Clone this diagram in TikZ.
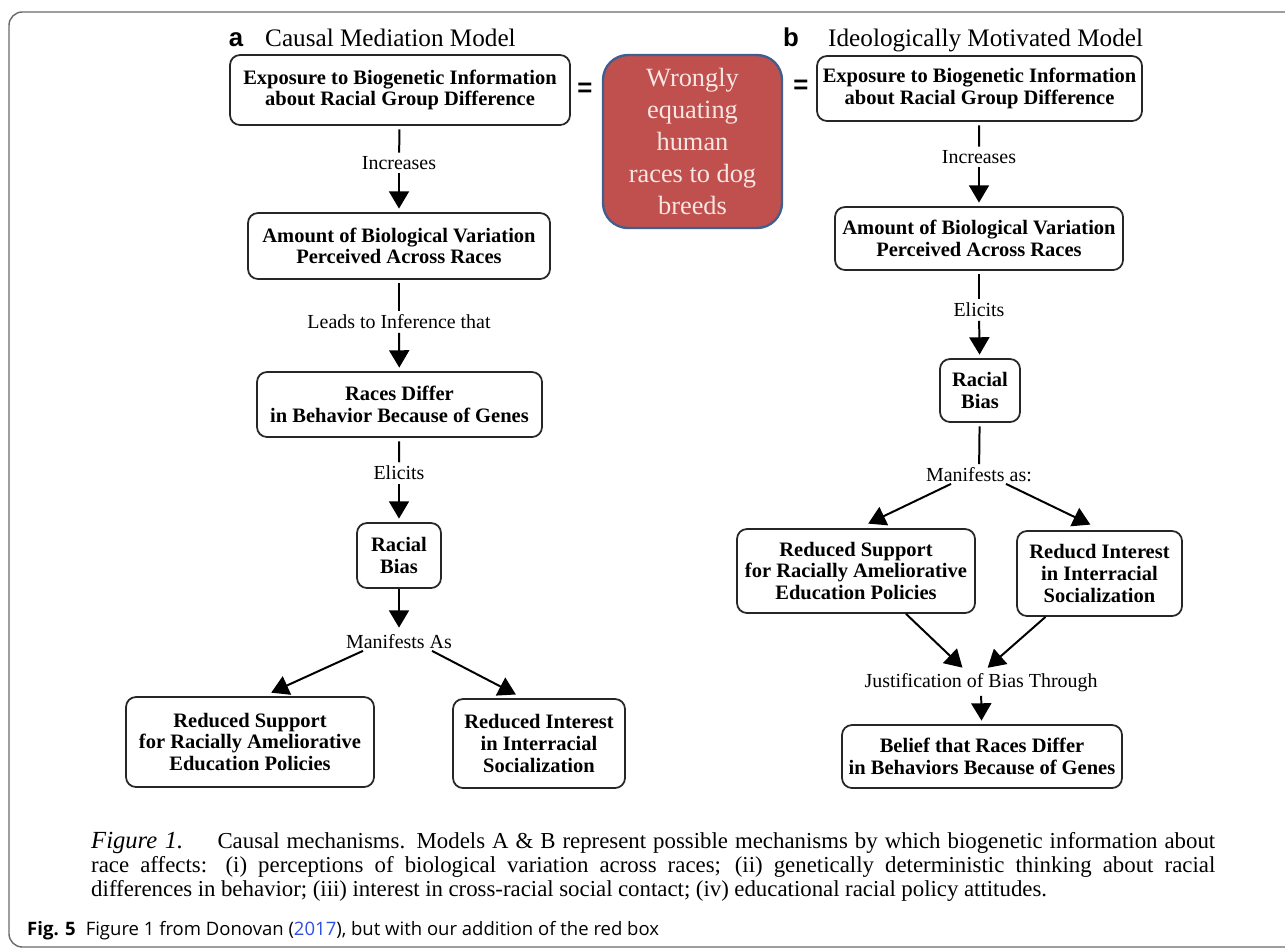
\documentclass[tikz,border=0pt]{standalone}
\usepackage{fontspec}
\setmainfont{Liberation Serif}
\newfontfamily\hsans{Liberation Sans}
\newfontfamily\capsans{Open Sans}
\usetikzlibrary{arrows.meta,calc}
\newcommand{\pxu}{0.03cm}
\definecolor{boxred}{HTML}{C0504D}
\definecolor{boxblue}{HTML}{3F5F8F}
\definecolor{redtext}{HTML}{F7E6E4}
\definecolor{linkblue}{HTML}{2F4FE0}
\definecolor{framegray}{HTML}{6A6A6A}
\tikzset{
	bx/.style={draw=black!85, line width=1.5pt, rounded corners=0.3cm, align=center,
			inner sep=0pt, font=\fontsize{17.5}{18.5}\selectfont\bfseries},
	sz/.style 2 args={minimum width={#1*\pxu}, minimum height={#2*\pxu}},
	lbl/.style={inner sep=3pt, font=\fontsize{17}{20}\selectfont},
	ttl/.style={inner sep=0pt, anchor=base west, font=\fontsize{21.5}{24}\selectfont},
	tag/.style={inner sep=0pt, font=\fontsize{22}{24}\selectfont\hsans\bfseries},
	ln/.style={line width=1.7pt, shorten <=3pt},
	arr/.style={line width=1.7pt, shorten >=3pt, -{Triangle[length=0.52cm,width=0.6cm]}}
}

\begin{document}
\begin{tikzpicture}[x=0.03cm, y=-0.03cm]
			\useasboundingbox (0,0) rectangle (1285,947);
			% Frame
			\draw[framegray, line width=1.2pt, rounded corners=0.4cm] (9,12) rectangle (1320,947);

			% Titles
			\node[tag, anchor=base] (ta) at (236,46) {a};
			\node[ttl] (tta) at (265,46) {Causal Mediation Model};
			\node[tag, anchor=base] (tb) at (791,46) {b};
			\node[ttl] (ttb) at (828,46) {Ideologically Motivated Model};

			% Model a
			\node[bx, sz={340}{70}] (a1) at (400,90) {Exposure to Biogenetic Information\\about Racial Group Difference};
			\node[lbl] (a1l) at (399,163) {Increases};
			\node[bx, sz={302}{66}] (a2) at (399,246) {Amount of Biological Variation\\Perceived Across Races};
			\node[lbl] (a2l) at (399,322) {Leads to Inference that};
			\node[bx, sz={285}{65}] (a3) at (399.5,404.5) {Races Differ\\in Behavior Because of Genes};
			\node[lbl] (a3l) at (399,473) {Elicits};
			\node[bx, sz={84}{65}] (a4) at (399,555.5) {Racial\\Bias};
			\node[lbl] (a4l) at (399,642) {Manifests As};
			\node[bx, sz={248}{90}] (a5) at (250,742) {Reduced Support\\for Racially Ameliorative\\Education Policies};
			\node[bx, sz={172}{89}] (a6) at (539,743.5) {Reduced Interest\\in Interracial\\Socialization};

			\draw[ln] (a1) -- (a1l);
			\draw[arr] (a1l) -- (a2);
			\draw[ln] (a2) -- (a2l);
			\draw[arr] (a2l) -- (a3);
			\draw[ln] (a3) -- (a3l);
			\draw[arr] (a3l) -- (a4);
			\draw[arr] (a4) -- (a4l);
			\draw[arr] ($(a4l.south)+(-36,-2)$) -- ($(a5.north)+(18,-2)$);
			\draw[arr] ($(a4l.south)+(33,-2)$) -- ($(a6.north)+(-20,-2)$);

			% Model b
			\node[bx, sz={325}{65}] (b1) at (979.5,88.5) {Exposure to Biogenetic Information\\about Racial Group Difference};
			\node[lbl] (b1l) at (979,157) {Increases};
			\node[bx, sz={288}{63}] (b2) at (979,238.5) {Amount of Biological Variation\\Perceived Across Races};
			\node[lbl] (b2l) at (979,310) {Elicits};
			\node[bx, sz={80}{63}] (b3) at (980,390.5) {Racial\\Bias};
			\node[lbl] (b3l) at (979,475) {Manifests as:};
			\node[bx, sz={238}{84}] (b5) at (856,571) {Reduced Support\\for Racially Ameliorative\\Education Policies};
			\node[bx, sz={165}{85}] (b6) at (1099.5,573.5) {Reducd Interest\\in Interracial\\Socialization};
			\node[lbl] (b5l) at (981,683) {Justification of Bias Through};
			\node[bx, sz={280}{63}] (b7) at (982,756.5) {Belief that Races Differ\\in Behaviors Because of Genes};

			\draw[ln] (b1) -- (b1l);
			\draw[arr] (b1l) -- (b2);
			\draw[ln] (b2) -- (b2l);
			\draw[arr] (b2l) -- (b3);
			\draw[ln] (b3) -- (b3l);
			\draw[arr] ($(b3l.south)+(-28,-2)$) -- ($(b5.north)+(9,-3)$);
			\draw[arr] ($(b3l.south)+(27,-2)$) -- ($(b6.north)+(-6,-4)$);
			\draw[arr] ($(b5.south)+(50,0)$) -- ($(b5l.north)+(-16,0)$);
			\draw[arr] ($(b6.south)+(-54,0)$) -- ($(b5l.north)+(4,0)$);
			\draw[arr] (b5l) -- (b7);

			% Red box and equals signs
			\node[tag] (eqa) at (585,90) {=};
			\node[tag] (eqb) at (801,87) {=};
			\node[draw=boxblue, fill=boxred, line width=2pt, rounded corners=0.75cm, sz={179}{173},
				inner sep=0pt, align=center, text=redtext, font=\fontsize{22.5}{27.3}\selectfont]
				(red) at (692.5,141.5) {Wrongly\\equating\\human\\races to dog\\breeds};

			% Captions
			\node[anchor=north west, inner sep=0pt, text width={1124*\pxu}, align=justify,
				font=\fontsize{19.5}{20.5}\selectfont] (cap) at (91,832)
				{{\fontsize{21}{20.5}\selectfont\textit{Figure 1.}}\hspace{1.5em}Causal mechanisms. Models A \& B represent possible mechanisms by which biogenetic information about\linebreak
				race affects: (i) perceptions of biological variation across races; (ii) genetically deterministic thinking about racial\linebreak
				{\spaceskip=0.24em differences in behavior; (iii) interest in cross-racial social contact; (iv) educational racial policy attitudes.}};
			\node[anchor=base west, inner sep=0pt, font=\capsans\fontsize{15.8}{18}\selectfont] (fig) at (27,935)
				{\textbf{Fig. 5}\hspace{0.3cm}Figure 1 from Donovan (\textcolor{linkblue}{2017}), but with our addition of the red box};
		\end{tikzpicture}
\end{document}
